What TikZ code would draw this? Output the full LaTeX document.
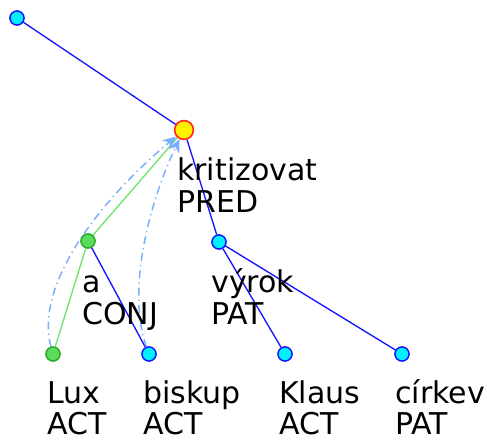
\documentclass[tikz,border=0pt]{standalone}
\usepackage{fontspec}
\setmainfont{DejaVu Sans}
\usetikzlibrary{arrows.meta}
\definecolor{nodecyan}{RGB}{0,240,255}
\definecolor{nodeblue}{RGB}{20,20,255}
\definecolor{nodegreen}{RGB}{90,220,90}
\definecolor{nodegreenb}{RGB}{40,170,40}
\definecolor{edgegreen}{RGB}{110,230,110}
\definecolor{coref}{RGB}{120,175,255}
\definecolor{predred}{RGB}{255,50,30}
\begin{document}
\begin{tikzpicture}[x=0.75pt,y=-0.75pt,
  tnode/.style={circle,draw=nodeblue,fill=nodecyan,line width=1pt,minimum size=10.5pt,inner sep=0pt},
  gnode/.style={circle,draw=nodegreenb,fill=nodegreen,line width=1pt,minimum size=10.5pt,inner sep=0pt},
  pnode/.style={circle,draw=predred,fill=yellow,line width=1.2pt,minimum size=14pt,inner sep=0pt},
  lbl/.style={anchor=base west,inner sep=0pt,font=\fontsize{22.5}{26}\selectfont},
  lastlbl/.style={lbl,text depth=0pt},
  bedge/.style={draw=nodeblue,line width=1pt},
  gedge/.style={draw=edgegreen,line width=1pt},
  coarrow/.style={draw=coref,line width=1.1pt,dash pattern=on 6pt off 3pt on 1pt off 3pt,-{Stealth[length=10pt,width=9pt]}}]
\useasboundingbox (0,0) rectangle (487,441);
% nodes
\node[tnode] (root) at (17,18) {};
\node[pnode] (krit) at (184,130) {};
\node[gnode] (a) at (88,241) {};
\node[tnode] (vyrok) at (219,242) {};
\node[gnode] (lux) at (53,354) {};
\node[tnode] (biskup) at (149,354) {};
\node[tnode] (klaus) at (285,354) {};
\node[tnode] (cirkev) at (402,354) {};
% edges
\draw[bedge] (root) -- (krit);
\draw[bedge] (krit) -- (vyrok);
\draw[bedge] (a) -- (biskup);
\draw[bedge] (vyrok) -- (klaus);
\draw[bedge] (vyrok) -- (cirkev);
\draw[gedge] (a) -- (krit);
\draw[gedge] (lux) -- (a);
% coreference arrows
\draw[coarrow] (lux) .. controls (34,285) and (100,200) .. (krit);
\draw[coarrow] (biskup) .. controls (126,290) and (150,200) .. (krit);
% redraw nodes on top
\node[tnode] at (root) {};
\node[pnode] at (krit) {};
\node[gnode] at (a) {};
\node[tnode] at (vyrok) {};
\node[gnode] at (lux) {};
\node[tnode] at (biskup) {};
\node[tnode] at (klaus) {};
\node[tnode] at (cirkev) {};
% labels
\node[lbl] (kritw) at (177,181) {kritizovat};
\node[lbl] (kritf) at (177,213) {PRED};
\node[lbl] (aw) at (82,293) {a};
\node[lbl] (af) at (82,325) {CONJ};
\node[lbl] (vyrokw) at (211,293) {výrok};
\node[lbl] (vyrokf) at (211,325) {PAT};
\node[lbl] (luxw) at (47,404) {Lux};
\node[lastlbl] (luxf) at (47,435) {ACT};
\node[lbl] (biskupw) at (143,404) {biskup};
\node[lastlbl] (biskupf) at (143,435) {ACT};
\node[lbl] (klausw) at (279,404) {Klaus};
\node[lastlbl] (klausf) at (279,435) {ACT};
\node[lbl] (cirkevw) at (395,404) {církev};
\node[lastlbl] (cirkevf) at (395,435) {PAT};
\end{tikzpicture}
\end{document}
